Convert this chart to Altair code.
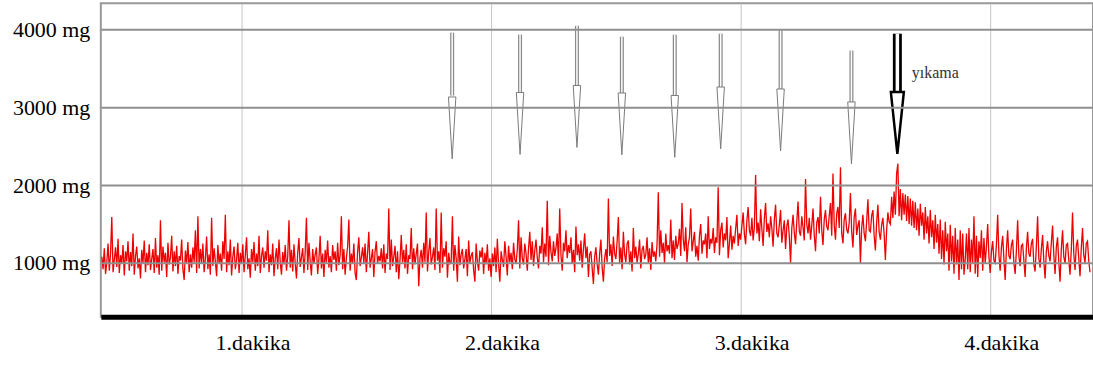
import altair as alt
import pandas as pd

# ---- red load signal (mg), sampled every 0.005 min, one list per minute block ----
load_min0 = [1080, 920, 1190, 860, 1010, 1250, 900, 1120, 1590, 880, 1040, 1200, 950, 1310, 870, 1100, 990, 1230, 840, 1150,
             1020, 1280, 900, 1140, 960, 1380, 850, 1090, 1210, 930, 1060, 800, 1170, 1000, 1290, 880, 1130, 970, 1240, 910,
             1050, 1180, 870, 1320, 940, 1100, 850, 1550, 900, 1210, 1010, 1130, 820, 1260, 980, 1070, 1350, 890, 1150, 960,
             1220, 860, 1090, 1030, 1300, 920, 780, 1160, 990, 1270, 880, 1110, 940, 1200, 1010, 1420, 870, 1600, 930, 1180,
             1000, 1250, 880, 1060, 1340, 920, 1110, 850, 1580, 960, 1190, 1020, 830, 1230, 990, 1120, 900, 1280, 1050, 1620,
             880, 1150, 970, 1300, 840, 1080, 1210, 920, 1040, 1260, 870, 1130]
load_min1 = [990, 1240, 880, 1100, 1330, 920, 1060, 810, 1180, 1010, 1270, 900, 1120, 960, 1350, 870, 1090, 1200, 940, 1150,
             1030, 1420, 880, 1110, 970, 1250, 830, 1060, 1190, 920, 1300, 1010, 850, 1140, 980, 1230, 900, 1080, 1550, 940,
             1170, 890, 1240, 1000, 800, 1130, 1320, 950, 1070, 1190, 870, 1140, 1580, 910, 1260, 1020, 840, 1180, 990, 1110,
             1200, 860, 1050, 1350, 930, 1120, 820, 1170, 1010, 1290, 940, 1090, 880, 1230, 1040, 1150, 900, 1260, 970, 1100,
             1600, 920, 1180, 850, 1060, 1210, 1560, 900, 1120, 990, 1250, 870, 780, 1140, 1330, 960, 1070, 1200, 1000, 1250,
             880, 1130, 1400, 940, 1060, 1180, 820, 1150, 1280, 990, 1090, 1020, 1190, 930, 1240, 870, 1120, 1050, 1700, 910,
             1300, 960, 1080, 1220, 880, 1150, 790, 1040, 1360, 1010, 1170, 930, 1240, 860, 1100, 1050, 1450, 920, 1190, 980,
             1120, 1250, 700, 1060, 1170, 940, 1260, 1010, 1650, 890, 1140, 1320, 980, 1080, 1200, 910, 1700, 1030, 1150, 870,
             1650, 940, 1190, 1080, 1280, 810, 1130, 990, 1010, 1600, 900, 1230, 1060, 760, 1340, 970, 1110, 1180, 930, 1050,
             1180, 830, 1290, 1000, 1090, 1140, 910, 760, 1250, 1020, 900, 1160, 1070, 1200, 860, 1130, 980, 1240, 900, 1060]
load_min2 = [820, 1120, 960, 1200, 880, 1310, 990, 760, 1150, 1040, 950, 1280, 1080, 840, 1220, 1010, 1130, 920, 1260, 1050,
             990, 1170, 1550, 930, 1330, 1060, 980, 1250, 1120, 900, 1190, 1400, 1040, 1280, 960, 1160, 1300, 1070, 930, 1220,
             1120, 1460, 1010, 1250, 1080, 1800, 970, 1350, 1140, 1020, 1280, 1090, 1190, 1380, 1010, 1700, 1100, 900, 1260, 1150,
             1420, 1060, 1230, 1130, 1330, 990, 1170, 880, 1470, 1100, 1240, 1030, 1290, 940, 1180, 1380, 1060, 1210, 820, 1110,
             1150, 930, 730, 1080, 1200, 990, 850, 1120, 1300, 940, 760, 1060, 1180, 1010, 1830, 1090, 1240, 960, 1340, 1120,
             1050, 1280, 1590, 1000, 1200, 920, 1400, 1110, 1010, 1250, 1290, 980, 1150, 890, 1450, 1060, 1210, 1000, 1120, 1300,
             930, 1170, 1220, 1050, 1110, 1330, 1000, 1190, 910, 1270, 1080, 1150, 1020, 1240, 1910, 1080, 1420, 1130, 1260, 1000,
             1380, 1150, 1230, 1120, 1560, 1060, 1290, 1040, 1350, 1180, 1250, 1440, 1090, 1770, 1300, 1150, 1460, 1010, 1240, 1330,
             1700, 1150, 1280, 1400, 1080, 1220, 1030, 1350, 1500, 1120, 1290, 1240, 1380, 1060, 1600, 1180, 1310, 1250, 1450, 1130,
             1330, 1260, 1975, 1100, 1420, 1520, 1200, 1380, 1290, 1590, 1060, 1250, 1480, 1170, 1350, 1250, 1440, 1620, 1220, 1380]
load_min3 = [1300, 1480, 1650, 1370, 1240, 1550, 1720, 1420, 1350, 1580, 1290, 1460, 2130, 1380, 1520, 1280, 1690, 1440, 1220, 1570,
             1770, 1400, 1510, 1330, 1600, 1450, 1210, 1560, 1750, 1380, 1330, 1490, 1680, 1260, 1420, 1550, 1180, 1470, 1560, 1340,
             1000, 1450, 1620, 1390, 1240, 1530, 1790, 1410, 1350, 1600, 1460, 1290, 2080, 1500, 1380, 1580, 1300, 1480, 1700, 1360,
             1150, 1520, 1590, 1380, 1850, 1420, 1230, 1560, 1680, 1470, 1420, 1610, 1770, 1350, 2150, 1490, 1300, 1640, 1720, 1450,
             2230, 1380, 1250, 1560, 1640, 1430, 1380, 1520, 1900, 1400, 1200, 1590, 1700, 1360, 1480, 1550, 1000, 1450, 1620, 1380,
             1280, 1540, 1820, 1420, 1400, 1610, 1680, 1350, 1160, 1520, 1750, 1400, 1300, 1490, 1580, 1370, 1040, 1420, 1650, 1530,
             1500, 1850, 1580, 1920, 1620, 2150, 2280, 1600, 1950, 1550, 1900, 1620, 1880, 1540, 1860, 1500, 1830, 1480, 1800, 1450,
             1780, 1420, 1700, 1350, 1760, 1480, 1650, 1300, 1720, 1380, 1600, 1250, 1680, 1330, 1550, 1180, 1620, 1260, 1500, 1120,
             1560, 1050, 1420, 980, 1530, 1150, 1380, 900, 1490, 1020, 1350, 860, 1450, 980, 1300, 780, 1420, 920, 1380, 850,
             1050, 1380, 920, 1450, 880, 1300, 1000, 1600, 860, 1350, 820, 1280, 1060, 1420, 900, 1320, 990, 1210, 1500, 1080]
load_min4 = [870, 1150, 1280, 1030, 1000, 1240, 1620, 1100, 900, 1200, 1350, 1050, 780, 1180, 1420, 1090, 1050, 1230, 1300, 1000,
             860, 1160, 1550, 1080, 960, 1220, 1240, 1030, 820, 1190, 1400, 1120, 1080, 1250, 1310, 980, 890, 1210, 1600, 1060,
             940, 1180, 1360, 1020, 800, 1150, 1280, 1090, 1020, 1260, 1480, 1100, 860, 1200, 1330, 1010, 760, 1180, 1420, 1080,
             990, 1230, 1250, 1040, 850, 1170, 1650, 1120, 910, 1220, 1300, 1060, 830, 1190, 1450, 1100, 1000, 1250, 1280, 1030,
             880]
segment_starts = [0.44, 1.00, 2.00, 3.00, 4.00]
sample_step = 0.005

# ---- stimulus arrows (time in min, values in mg) ----
arrow_t = [1.844, 2.116, 2.344, 2.524, 2.736, 2.92, 3.16, 3.444, 3.628]
arrow_top = [3962, 3936, 4051, 3910, 3936, 3949, 4000, 3731, 3949]
arrow_neck = [3154, 3179, 3282, 3167, 3154, 3244, 3231, 3026, 3192]
arrow_tip = [2321, 2410, 2487, 2410, 2359, 2487, 2449, 2321, 2410]
arrow_kind = ["thin"] * 8 + ["thick"]

label_text = ["yıkama"]
label_t = [3.78]
label_mg = [3449]

x_ticks = [1, 2, 3, 4]
y_ticks = [1000, 2000, 3000, 4000]

rows = []
for start, seg in zip(segment_starts, [load_min0, load_min1, load_min2, load_min3, load_min4]):
    for i, v in enumerate(seg):
        rows.append({"t": round(start + i * sample_step, 4), "mg": v})
sig = pd.DataFrame(rows)

arrows = pd.DataFrame({"t": arrow_t, "top": arrow_top, "neck": arrow_neck,
                       "tip": arrow_tip, "kind": arrow_kind})
arrows["mid"] = (arrows["neck"] + arrows["tip"]) / 2
thin = arrows[arrows.kind == "thin"]
thick = arrows[arrows.kind == "thick"]
labels = pd.DataFrame({"text": label_text, "t": label_t, "mg": label_mg})

xs = alt.Scale(domain=[0.436, 4.412], nice=False, zero=False)
ys = alt.Scale(domain=[308, 4340], nice=False, zero=False)
FONT = "Liberation Serif"

x_axis = alt.Axis(
    values=x_ticks, labelExpr="datum.value + '.dakika'", title=None,
    grid=True, gridColor="#c4c4c4", gridWidth=1, ticks=False,
    domainColor="black", domainWidth=5, labelFont=FONT, labelFontSize=22,
    labelColor="black", labelPadding=16, labelOffset=11)
y_axis = alt.Axis(
    values=y_ticks, labelExpr="datum.value + ' mg'", title=None,
    grid=True, gridColor="#8f8f8f", gridWidth=2, ticks=False, domain=False,
    labelFont=FONT, labelFontSize=22, labelColor="black", labelPadding=11,
    zindex=1)

line = alt.Chart(sig).mark_line(color="#ee0000", strokeWidth=1.3).encode(
    x=alt.X("t:Q", scale=xs, axis=x_axis),
    y=alt.Y("mg:Q", scale=ys, axis=y_axis),
)

def shaft(df, color, width):
    return alt.Chart(df).mark_rule(color=color, strokeWidth=width).encode(
        x=alt.X("t:Q", scale=xs, axis=x_axis),
        y=alt.Y("top:Q", scale=ys, axis=y_axis),
        y2="neck:Q",
    )

def head(df, path, stroke, width):
    return alt.Chart(df).mark_point(shape=path, size=3844, filled=True, fill="white",
                                    stroke=stroke, strokeWidth=width, opacity=1).encode(
        x=alt.X("t:Q", scale=xs, axis=x_axis),
        y=alt.Y("mid:Q", scale=ys, axis=y_axis),
    )

thin_layers = [shaft(thin, "#8a8a8a", 4), shaft(thin, "white", 1.5),
               head(thin, "M -0.12 -1 L 0.12 -1 L 0 1 Z", "#7a7a7a", 1)]
thick_layers = [shaft(thick, "black", 9), shaft(thick, "white", 3.5),
                head(thick, "M -0.21 -1 L 0.21 -1 L 0 1 Z", "black", 2.5)]

text = alt.Chart(labels).mark_text(font=FONT, fontSize=16, color="#333333", align="center").encode(
    x=alt.X("t:Q", scale=xs, axis=x_axis),
    y=alt.Y("mg:Q", scale=ys, axis=y_axis),
    text="text:N",
)

chart = alt.layer(line, *thin_layers, *thick_layers, text).properties(
    width=994, height=314,
    padding={"left": 101, "top": 3, "right": 0, "bottom": 48},
    autosize=alt.AutoSizeParams(type="none"),
).configure_view(stroke="#999999", strokeWidth=2)

chart.save("out.html", embed_options={"renderer": "svg", "actions": False})
